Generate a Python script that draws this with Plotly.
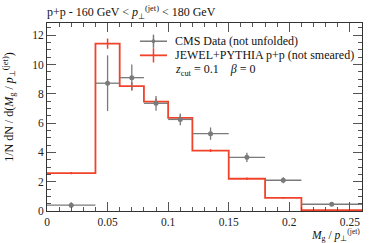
import plotly.graph_objects as go

# ---- data ----
bin_edges = [0.0, 0.04, 0.06, 0.08, 0.10, 0.12, 0.15, 0.18, 0.21, 0.26]
cms_vals = [0.40, 8.72, 9.10, 7.35, 6.25, 5.28, 3.66, 2.10, 0.46]
cms_err = [0.20, 1.90, 0.90, 0.50, 0.40, 0.42, 0.32, 0.20, 0.10]
jewel_vals = [2.58, 11.42, 8.52, 7.46, 6.35, 4.12, 2.20, 0.89, 0.06]
jewel_err = [0.08, 0.35, 0.27, 0.22, 0.18, 0.10, 0.08, 0.05, 0.02]

x_ticks = [0, 0.05, 0.1, 0.15, 0.2, 0.25]
x_ticklabels = ["0", "0.05", "0.1", "0.15", "0.2", "0.25"]
y_ticks = [0, 2, 4, 6, 8, 10, 12]

title_text = "p+p - 160 GeV &lt; <i>p</i><sub>⊥</sub><sup>(jet)</sup> &lt; 180 GeV"
cms_label = "CMS Data (not unfolded)"
jewel_label = "JEWEL+PYTHIA p+p (not smeared)"
param_text = "<i>z</i><sub>cut</sub> = 0.1    <i>β</i> = 0"
ytitle = "1/N dN / d(<i>M</i><sub>g</sub> / <i>p</i><sub>⊥</sub><sup>(jet)</sup>)"
xtitle = ("<i>M</i><sub>g</sub> / <i>p</i><sub>⊥</sub>"
          "<sup><span style='font-size:7.5px'>(jet)</span></sup>")

GRAY = "#7a7a7a"
RED = "#f0432a"
FONT = "Liberation Serif"

centers = [(a + b) / 2 for a, b in zip(bin_edges[:-1], bin_edges[1:])]
halfw = [(b - a) / 2 for a, b in zip(bin_edges[:-1], bin_edges[1:])]

fig = go.Figure()

# JEWEL step histogram
fig.add_trace(go.Scatter(
    x=bin_edges, y=jewel_vals + [jewel_vals[-1]],
    mode="lines", line=dict(color=RED, width=1.8, shape="hv"),
    showlegend=False, hoverinfo="skip"))
fig.add_trace(go.Scatter(
    x=centers, y=jewel_vals, mode="markers",
    marker=dict(size=1, color=RED),
    error_y=dict(type="data", array=jewel_err, color=RED, thickness=1.5, width=0),
    showlegend=False))

# CMS data
fig.add_trace(go.Scatter(
    x=centers, y=cms_vals, mode="markers",
    marker=dict(size=5, color=GRAY),
    error_y=dict(type="data", array=cms_err, color=GRAY, thickness=1.3, width=0),
    error_x=dict(type="data", array=halfw, color=GRAY, thickness=1.3, width=0),
    showlegend=False))

axis_common = dict(
    showgrid=False, zeroline=False, showline=True, linecolor="#333", linewidth=1,
    mirror="ticks", ticks="inside", tickcolor="#555", tickwidth=1,
    tickfont=dict(family=FONT, size=11.5, color="#222"))

fig.update_xaxes(range=[0, 0.26], tickvals=x_ticks, ticktext=x_ticklabels, ticklen=9,
                 minor=dict(dtick=0.01, ticklen=4, ticks="inside", tickcolor="#555"),
                 **axis_common)
fig.update_yaxes(range=[0, 12.83], tickvals=y_ticks, ticklen=9,
                 minor=dict(dtick=0.5, ticklen=4, ticks="inside", tickcolor="#555"),
                 **axis_common)

# legend drawn manually
shapes = [
    dict(type="line", xref="paper", yref="paper", x0=0.295, x1=0.381, y0=0.903, y1=0.903,
         line=dict(color=GRAY, width=1.5)),
    dict(type="line", xref="paper", yref="paper", x0=0.338, x1=0.338, y0=0.868, y1=0.938,
         line=dict(color=GRAY, width=1.5)),
    dict(type="circle", xref="paper", yref="paper", x0=0.332, x1=0.344, y0=0.893, y1=0.913,
         fillcolor=GRAY, line=dict(color=GRAY, width=0)),
    dict(type="line", xref="paper", yref="paper", x0=0.295, x1=0.381, y0=0.828, y1=0.828,
         line=dict(color=RED, width=1.8)),
    dict(type="line", xref="paper", yref="paper", x0=0.338, x1=0.338, y0=0.79, y1=0.866,
         line=dict(color=RED, width=1.5)),
]

ann_font = dict(family=FONT, size=12, color="#111")
annotations = [
    dict(text=cms_label, xref="paper", yref="paper", x=0.399, y=0.903,
         xanchor="left", yanchor="middle", showarrow=False, font=ann_font),
    dict(text=jewel_label, xref="paper", yref="paper", x=0.399, y=0.828,
         xanchor="left", yanchor="middle", showarrow=False, font=ann_font),
    dict(text=param_text, xref="paper", yref="paper", x=0.399, y=0.748,
         xanchor="left", yanchor="middle", showarrow=False, font=ann_font),
    dict(text=title_text, xref="paper", yref="paper", x=-0.005, y=1.055,
         xanchor="left", yanchor="middle", showarrow=False, font=ann_font),
    dict(text=ytitle, xref="paper", yref="paper", x=-0.12, y=0.55, textangle=-90,
         xanchor="center", yanchor="middle", showarrow=False, font=ann_font),
    dict(text=xtitle, xref="paper", yref="paper", x=1.0, y=-0.128,
         xanchor="right", yanchor="middle", showarrow=False,
         font=dict(family=FONT, size=11.5, color="#111")),
]

fig.update_layout(
    width=374, height=243,
    margin=dict(l=47, r=12, t=23, b=32),
    paper_bgcolor="white", plot_bgcolor="white",
    shapes=shapes, annotations=annotations,
    showlegend=False,
)

fig.write_html("out.html", config={"displayModeBar": False},
               post_script="document.body.style.margin='0px';")
